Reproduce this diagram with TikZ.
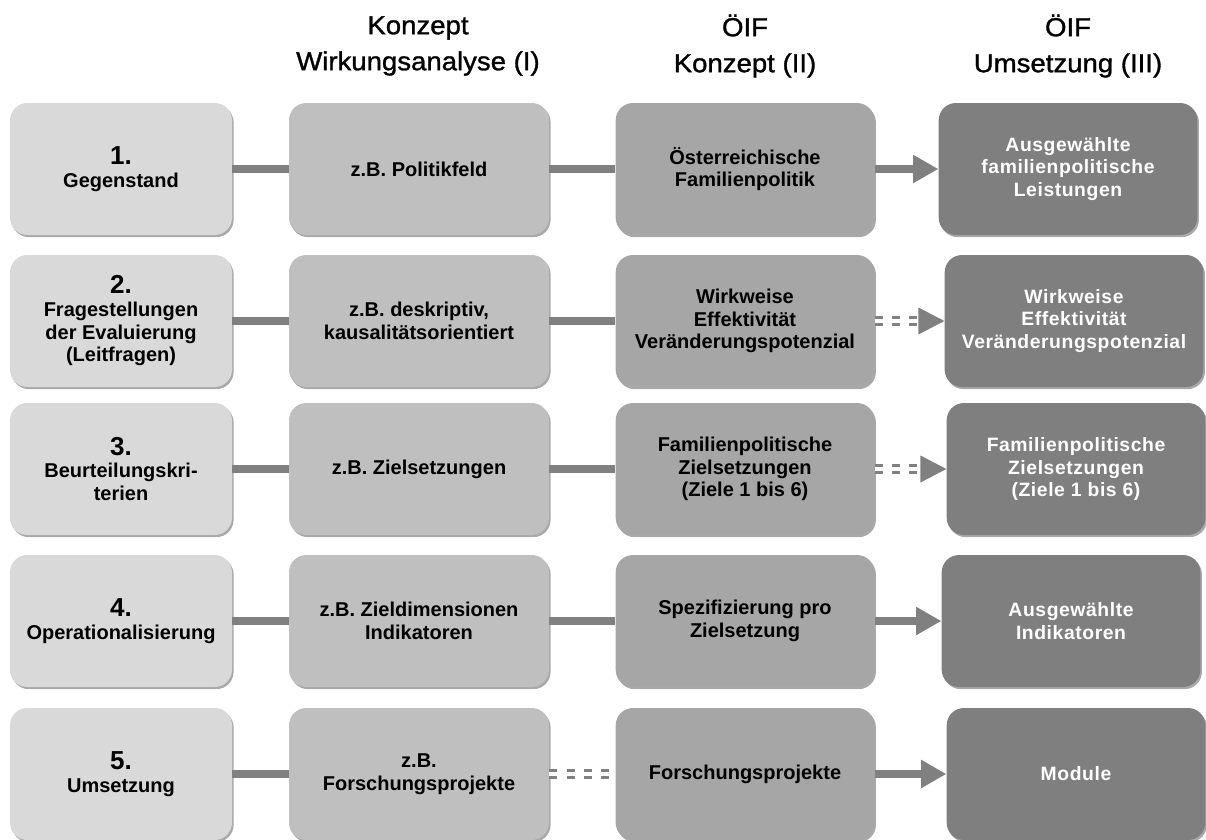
\documentclass[tikz,border=0pt]{standalone}
\usepackage{fontspec}
\setmainfont{Liberation Sans}
\newfontfamily\boxfont{Liberation Sans}
\newfontfamily\whitefont[LetterSpace=3]{Liberation Sans}
\newfontfamily\hdrfont[FakeStretch=1.06,FakeBold=1.2]{Liberation Sans}
\usetikzlibrary{arrows.meta,shadows,calc}
\definecolor{cone}{HTML}{D9D9D9}
\definecolor{ctwo}{HTML}{BFBFBF}
\definecolor{cthree}{HTML}{A6A6A6}
\definecolor{cfour}{HTML}{7F7F7F}
\definecolor{cline}{HTML}{808080}
\begin{document}
\begin{tikzpicture}[x=0.75pt,y=-0.75pt,
  box/.style={rounded corners=13pt, minimum height=99pt, align=center,
    font=\boxfont\bfseries\fontsize{15}{17}\selectfont, inner sep=2pt,
    drop shadow={shadow xshift=1.2pt, shadow yshift=-1.6pt, opacity=0.45, fill=black!75}},
  colA/.style={box, fill=cone, minimum width=166.5pt},
  colB/.style={box, fill=ctwo, minimum width=195pt},
  colC/.style={box, fill=cthree, minimum width=194pt},
  colD/.style={box, fill=cfour, minimum width=194pt, text=white,
    font=\whitefont\bfseries\fontsize{14.5}{17}\selectfont},
  hdr/.style={align=center, font=\hdrfont\fontsize{19.5}{27}\selectfont},
  link/.style={draw=cline, line width=6pt},
  arr/.style={link, -{Triangle[length=19pt,width=20pt]}},
  dlink/.style={draw=cline, line width=2.2pt, double=white, double distance=2.6pt,
    dash pattern=on 6pt off 7pt},
  tipfill/.style={fill=cline}
]
\useasboundingbox (0,0) rectangle (1206,839);
\newcommand{\num}[1]{{\fontsize{19.5}{21}\selectfont #1}}

% headers
\node[hdr] (h1) at (418,46) {Konzept\\Wirkungsanalyse (I)};
\node[hdr] (h2) at (745,46) {ÖIF\\Konzept (II)};
\node[hdr] (h3) at (1068,46) {ÖIF\\Umsetzung (III)};

% row 1
\node[colA] (a1) at (121,169) {\num{1.}\\Gegenstand};
\node[colB] (b1) at (419,169) {z.B. Politikfeld};
\node[colC] (c1) at (745,169) {Österreichische\\Familienpolitik};
\node[colD] (d1) at (1068,169) {Ausgewählte\\familienpolitische\\Leistungen};
% row 2
\node[colA] (a2) at (121,321) {\num{2.}\\Fragestellungen\\der Evaluierung\\(Leitfragen)};
\node[colB] (b2) at (419,321) {z.B. deskriptiv,\\kausalitätsorientiert};
\node[colC] (c2) at (745,321) {Wirkweise\\Effektivität\\Veränderungspotenzial};
\node[colD] (d2) at (1074,321) {Wirkweise\\Effektivität\\Veränderungspotenzial};
% row 3
\node[colA] (a3) at (121,469) {\num{3.}\\Beurteilungskri-\\terien};
\node[colB] (b3) at (419,469) {z.B. Zielsetzungen};
\node[colC] (c3) at (745,469) {Familienpolitische\\Zielsetzungen\\(Ziele 1 bis 6)};
\node[colD] (d3) at (1076,469) {Familienpolitische\\Zielsetzungen\\(Ziele 1 bis 6)};
% row 4
\node[colA] (a4) at (121,621) {\num{4.}\\Operationalisierung};
\node[colB] (b4) at (419,621) {z.B. Zieldimensionen\\Indikatoren};
\node[colC] (c4) at (745,621) {Spezifizierung pro\\Zielsetzung};
\node[colD] (d4) at (1071,621) {Ausgewählte\\Indikatoren};
% row 5
\node[colA] (a5) at (121,774) {\num{5.}\\Umsetzung};
\node[colB] (b5) at (419,774) {z.B.\\Forschungsprojekte};
\node[colC] (c5) at (745,774) {Forschungsprojekte};
\node[colD] (d5) at (1076,774) {Module};

% connectors
\draw[link] (a1) -- (b1);
\draw[link] (b1) -- (c1);
\draw[arr] (c1) -- (d1);

\draw[link] (a2) -- (b2);
\draw[link] (b2) -- (c2);
\coordinate (t2) at ($(d2.west)+(-26,0)$);
\draw[dlink] (c2.east) -- (t2);
\fill[tipfill] ($(t2)+(0,-13.5)$) -- (d2.west) -- ($(t2)+(0,13.5)$) -- cycle;

\draw[link] (a3) -- (b3);
\draw[link] (b3) -- (c3);
\coordinate (t3) at ($(d3.west)+(-26,0)$);
\draw[dlink] (c3.east) -- (t3);
\fill[tipfill] ($(t3)+(0,-13.5)$) -- (d3.west) -- ($(t3)+(0,13.5)$) -- cycle;

\draw[link] (a4) -- (b4);
\draw[link] (b4) -- (c4);
\draw[arr] (c4) -- (d4);

\draw[link] (a5) -- (b5);
\draw[dlink] (b5) -- (c5);
\draw[arr] (c5) -- (d5);
\end{tikzpicture}
\end{document}
